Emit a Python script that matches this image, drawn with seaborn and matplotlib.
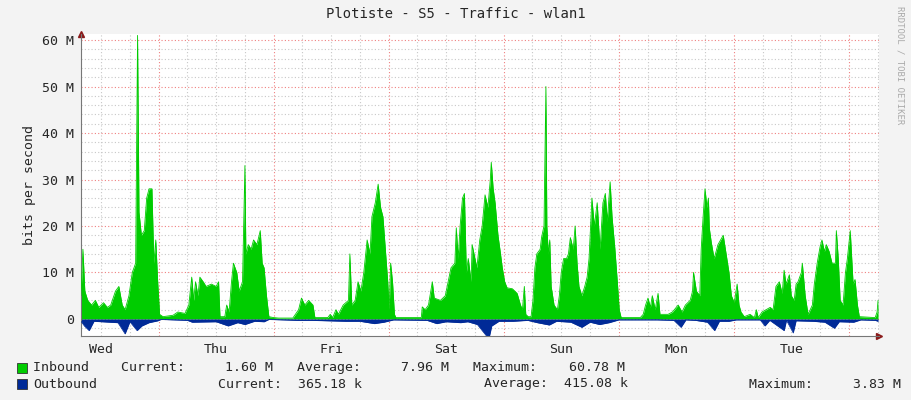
import numpy as np
import pandas as pd
import seaborn as sns
import matplotlib.pyplot as plt
from matplotlib.ticker import MultipleLocator, FuncFormatter

# hours since Wed 00:00, inbound in Mbit/s
in_hours = [7.8, 8.2, 8.6, 9.2, 10, 10.8, 11.5, 12.5, 13.3, 14, 15, 15.7, 16.4, 17, 17.8, 18.5, 19.2, 19.6, 19.9,
            20.4, 21, 21.5, 22, 22.6, 23, 23.4, 23.8, 24.2,
            24.9, 27, 28, 29.5, 30.3, 30.9, 31.3, 31.7, 32.2, 32.6, 33.3, 33.9, 35, 36, 36.5, 36.8, 37.8, 38.2, 38.7,
            39.2, 39.6, 40.3, 40.8, 41.5, 42, 42.2, 42.7, 43.3, 43.8, 44.5, 45.2, 45.6, 46, 46.5, 47, 48,
            49, 52, 53.2, 53.8, 54.5, 55.3, 56.2, 56.6, 59.3, 59.8, 60.3, 61, 61.5, 62.5, 63.6, 63.9, 64.3, 65, 65.6,
            66.2, 66.8, 67.5, 68.1, 68.5, 69.2, 69.8, 70.3, 70.8, 71.3, 71.8, 72.1, 72.4, 72.8, 73.2, 73.5,
            78.8, 79.0, 79.6, 80.3, 81.1, 81.5, 82.8, 83.8, 84.4, 85, 85.8, 86.1, 86.5, 86.9, 87.4, 87.8, 88.2, 88.6,
            89.2, 89.4, 90.4, 91.0, 91.5, 92.1, 92.7, 93.2, 93.4, 93.8, 94.2, 94.8, 95.2, 95.7, 96.2, 96.7, 97.8,
            98.8, 99.5, 99.9, 100.3, 100.6, 101.1, 101.7,
            102.1, 102.5, 102.9, 103.6, 103.9, 104.4, 104.8, 105.0, 105.3, 105.6, 105.9, 106.5, 107.2, 107.6, 108.0,
            108.5, 109.1, 109.5, 109.9, 110.5, 110.9, 111.3, 111.7, 112.3, 112.9, 113.4, 113.8, 114.4, 114.9, 115.5,
            116.1, 116.7, 117.2, 117.6, 118.2, 118.6, 119.2, 119.7, 120.1, 120.5,
            124.5, 125.1, 125.6, 126.1, 126.6, 127.0, 127.6, 128.2, 128.6, 130.3, 131.2, 132.4, 133.2, 133.9, 134.9,
            135.4, 135.6, 136.2, 136.9, 137.2, 137.6, 138.0, 138.4, 138.7, 138.9, 139.3, 139.9, 140.7, 141.8, 142.4,
            143.0, 143.5, 144.1, 144.7, 145.1, 145.5, 146.2, 147.4, 148.3, 148.7, 149.1, 149.9, 151.6, 152.2, 152.8,
            153.5, 154.1, 154.5, 154.9, 155.6, 156.0, 156.6, 157.0, 157.4, 158.1, 158.3, 158.9, 159.5, 160.4, 160.8,
            161.4, 162.0, 162.4, 162.9, 163.3, 163.9, 164.5, 165.2, 165.4, 165.8, 166.2, 166.8, 167.3, 167.7, 168.3,
            168.9, 169.3, 169.8, 170.2, 173.5, 173.9, 174.1]
inbound = [5, 15, 6, 4, 3, 4, 2.5, 3.5, 2.5, 3, 6, 7, 3, 2, 5, 10, 12, 61, 23,
           18, 19, 26, 28, 28, 12, 17, 8, 1,
           0.5, 0.8, 1.5, 1.2, 3, 9, 4, 8, 5, 9, 8, 7, 7.5, 7, 8, 0.5, 0.5, 3, 1.5,
           8, 12, 10, 6, 8, 33, 14, 16, 15, 17, 16, 19, 12, 11, 5, 0.5, 0.3,
           0.2, 0.2, 2, 4.5, 3, 4, 3, 0.3, 0.3, 1, 0.3, 2, 1, 3, 4, 14, 3, 4, 8,
           6, 10, 17, 14, 22, 25, 29, 24, 22, 15, 8, 2, 12, 8, 1, 0.3,
           0.3, 2.6, 2, 3, 8, 4.5, 4, 5, 8, 11, 12, 19.6, 13, 20, 26, 27, 10, 13,
           8, 16, 11, 17, 20, 26.7, 24, 30, 33.7, 28, 25, 18, 15, 11, 8, 6.7, 6.5,
           5.5, 3, 2, 7, 1, 0.5, 0.5,
           4, 11, 14, 15, 17.6, 20, 50, 20, 14, 17, 7, 3, 2, 5, 10,
           13, 13, 14, 17.5, 15, 20, 12, 7, 5, 7, 9, 13, 26, 20, 25,
           15, 25, 27, 21, 29.5, 22, 15, 8, 2, 0.3,
           0.3, 1, 3, 4.5, 2.5, 5, 2, 5.5, 1, 1, 1.5, 3, 1.5, 3, 4,
           6, 10, 6, 5, 15, 22, 28, 24, 26, 19.5, 16.5, 13, 16, 18, 14,
           10, 5, 3.5, 7.5, 3, 1.5, 0.5, 1, 0.3, 2, 0.3, 1.5, 2.5, 2, 7,
           8, 5.5, 10.5, 7.5, 9.5, 5, 4, 7.5, 8, 10, 12, 5, 1, 3, 7.5,
           12, 15.5, 17, 14.5, 16, 14.5, 12, 12, 19, 13, 4, 3, 10, 13, 19,
           7.5, 8.5, 3, 0.5, 0.3, 1.5, 4]

out_hours = [7.8, 8.5, 9.5, 10.5, 15.5, 17, 18, 19.5, 20.5, 22, 23.8, 24.5,
             30, 31, 36, 38.5, 40.5, 42, 44, 46, 47,
             53, 56, 63, 66, 69, 71, 73,
             80, 82, 84, 87, 88.5, 90.5, 92.9, 93.5, 95, 98, 101,
             103, 105.5, 107, 110, 112.3, 114, 116, 118, 120,
             125, 128, 131.5, 133, 134, 136, 138.5, 140, 141, 143, 144.5,
             149.5, 150.5, 151.5, 154.5, 155, 156.4, 157, 160.5, 163, 165, 166, 169, 170.5, 173.5, 174.1]
outbound = [-0.5, -1.5, -2.5, -0.5, -0.8, -3.2, -0.6, -2.5, -1.5, -0.8, -0.4, -0.1,
            -0.3, -0.7, -0.6, -1.5, -0.8, -1.2, -0.5, -0.6, -0.1,
            -0.3, -0.3, -0.5, -0.5, -1, -0.7, -0.2,
            -0.3, -1, -0.6, -0.8, -0.6, -1.2, -4.3, -1.5, -0.5, -0.5, -0.3,
            -0.8, -1.3, -0.5, -0.7, -1.8, -0.7, -1.2, -0.8, -0.2,
            -0.2, -0.2, -0.3, -1.8, -0.2, -0.3, -0.7, -2.5, -0.5, -0.5, -0.2,
            -0.2, -1.5, -0.3, -2.5, -0.3, -3, -0.4, -0.5, -0.7, -2, -0.6, -0.7, -0.2, -0.3, -0.5]

day_names = ['Wed', 'Thu', 'Fri', 'Sat', 'Sun', 'Mon', 'Tue']

green = '#00CC00'
blue = '#002A97'

df_in = pd.DataFrame({'hour': in_hours, 'value': inbound})
df_out = pd.DataFrame({'hour': out_hours, 'value': outbound})

sns.set_style('white')
plt.rcParams['font.family'] = ['DejaVu Sans Mono']

fig = plt.figure(figsize=(9.11, 4.0), dpi=100, facecolor='#F3F3F3')
ax = fig.add_axes([81 / 911, 64 / 400, 798 / 911, 302 / 400])
ax.set_facecolor('white')

# grid first, so data sits on top
for h in np.arange(6, 180, 6):
    c = '#F08080' if h % 24 == 0 else '#C8C8C8'
    ax.axvline(h, color=c, lw=0.8, ls=(0, (1, 2)), zorder=0)
for v in np.arange(-2, 62, 2):
    c = '#F08080' if v % 10 == 0 else '#C8C8C8'
    ax.axhline(v, color=c, lw=0.8, ls=(0, (1, 2)), zorder=0)

ax.fill_between(df_in['hour'], 0, df_in['value'], color=green, lw=0, zorder=2)
sns.lineplot(data=df_in, x='hour', y='value', color=green, lw=0.6, ax=ax, zorder=3)
ax.fill_between(df_out['hour'], 0, df_out['value'], color=blue, lw=0, zorder=2)
sns.lineplot(data=df_out, x='hour', y='value', color=blue, lw=0.5, ax=ax, zorder=3)

ax.set_xlim(7.8, 174.3)
ax.set_ylim(-3.66, 61.3)
ax.yaxis.set_major_locator(MultipleLocator(10))
ax.yaxis.set_major_formatter(FuncFormatter(lambda v, p: '0' if v == 0 else f'{int(v)} M'))
ax.set_xticks([12 + 24 * i for i in range(len(day_names))])
ax.set_xticklabels(day_names)
ax.tick_params(axis='both', labelsize=9.5, length=2, color='#888888', pad=3)
ax.set_xlabel('')
ax.set_ylabel('bits per second', fontsize=9.5)
for side in ['top', 'right']:
    ax.spines[side].set_visible(False)
for side in ['left', 'bottom']:
    ax.spines[side].set_color('#777777')
    ax.spines[side].set_linewidth(0.8)
ax.plot(1, 0, '>', color='#8B1A1A', ms=4, transform=ax.transAxes, clip_on=False)
ax.plot(0, 1, '^', color='#8B1A1A', ms=4, transform=ax.transAxes, clip_on=False)

fig.text(0.5, 1 - 14 / 400, 'Plotiste - S5 - Traffic - wlan1', ha='center', va='center', fontsize=10)
fig.text(900 / 911, 0.985, 'RRDTOOL / TOBI OETIKER', rotation=270, ha='center', va='top',
         fontsize=6.5, color='#AAAAAA')

# legend rows
for y, col in [(368, green), (384, blue)]:
    fig.patches.append(plt.Rectangle((17 / 911, 1 - (y + 5) / 400), 10 / 911, 10 / 400,
                                     transform=fig.transFigure, facecolor=col, edgecolor='#333333', lw=0.6))
fs = 9.5
fig.text(33 / 911, 1 - 368 / 400,
         'Inbound    Current:     1.60 M   Average:     7.96 M   Maximum:    60.78 M',
         va='center', fontsize=fs)
fig.text(33 / 911, 1 - 384 / 400, 'Outbound', va='center', fontsize=fs)
fig.text(218 / 911, 1 - 384 / 400, 'Current:  365.18 k', va='center', fontsize=fs)
fig.text(484 / 911, 1 - 384 / 400, 'Average:  415.08 k', va='center', fontsize=fs)
fig.text(749 / 911, 1 - 384 / 400, 'Maximum:     3.83 M', va='center', fontsize=fs)

fig.savefig('out.png', dpi=100, facecolor=fig.get_facecolor())
